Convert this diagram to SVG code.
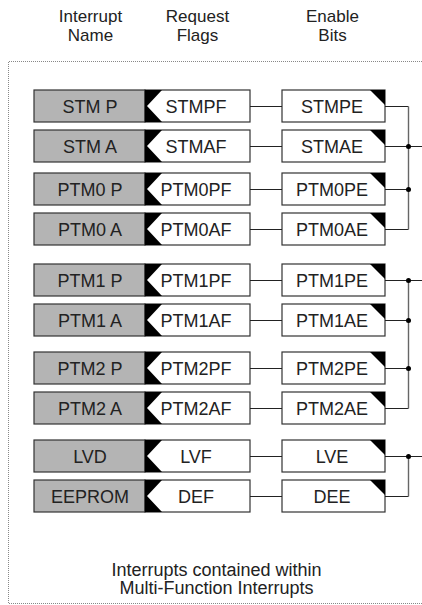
<svg xmlns="http://www.w3.org/2000/svg" width="422" height="605" viewBox="0 0 422 605">
<style>
text{font-family:"Liberation Sans",Arial,sans-serif;font-size:18px;fill:#222;text-anchor:middle}
.hd{font-size:17px}
.name{fill:#b4b4b4;stroke:#333;stroke-width:1.2}
.box{fill:#fff;stroke:#333;stroke-width:1.2}
.blk{fill:#000}
.h{stroke:#222;stroke-width:1.2;fill:none}
.v{stroke:#666;stroke-width:1.4;fill:none}
.dot{fill:#000}
.frame{stroke:#888;stroke-width:1;stroke-dasharray:1 1;fill:none}
</style>
<defs>
<g id="row">
<rect class="name" x="34" y="0" width="111" height="32"/>
<rect class="box" x="145" y="0" width="105" height="32"/>
<polygon class="blk" points="145,0 162,0 147,16 162,32 145,32"/>
<rect class="box" x="282" y="0" width="103" height="32"/>
<polygon class="blk" points="370,0 385,0 385,15"/>
</g>
</defs>
<path class="frame" d="M422,61.5 H8.5 V603.5 H422"/>
<g id="headers">
<text class="hd" x="90.5" y="22">Interrupt</text>
<text class="hd" x="90.5" y="40.5">Name</text>
<text class="hd" x="197.5" y="22">Request</text>
<text class="hd" x="197.5" y="40.5">Flags</text>
<text class="hd" x="332.5" y="22">Enable</text>
<text class="hd" x="332.5" y="40.5">Bits</text>
</g>
<g id="stm-p"><use href="#row" y="90"/><text x="90" y="113">STM P</text><text x="196" y="113">STMPF</text><text x="332" y="113">STMPE</text></g>
<g id="stm-a"><use href="#row" y="130"/><text x="90" y="153">STM A</text><text x="196" y="153">STMAF</text><text x="332" y="153">STMAE</text></g>
<g id="ptm0-p"><use href="#row" y="173"/><text x="90" y="196">PTM0 P</text><text x="196" y="196">PTM0PF</text><text x="332" y="196">PTM0PE</text></g>
<g id="ptm0-a"><use href="#row" y="213"/><text x="90" y="236">PTM0 A</text><text x="196" y="236">PTM0AF</text><text x="332" y="236">PTM0AE</text></g>
<g id="ptm1-p"><use href="#row" y="264"/><text x="90" y="287">PTM1 P</text><text x="196" y="287">PTM1PF</text><text x="332" y="287">PTM1PE</text></g>
<g id="ptm1-a"><use href="#row" y="304"/><text x="90" y="327">PTM1 A</text><text x="196" y="327">PTM1AF</text><text x="332" y="327">PTM1AE</text></g>
<g id="ptm2-p"><use href="#row" y="352"/><text x="90" y="375">PTM2 P</text><text x="196" y="375">PTM2PF</text><text x="332" y="375">PTM2PE</text></g>
<g id="ptm2-a"><use href="#row" y="392"/><text x="90" y="415">PTM2 A</text><text x="196" y="415">PTM2AF</text><text x="332" y="415">PTM2AE</text></g>
<g id="lvd"><use href="#row" y="440"/><text x="90" y="463">LVD</text><text x="196" y="463">LVF</text><text x="332" y="463">LVE</text></g>
<g id="eeprom"><use href="#row" y="480"/><text x="90" y="503">EEPROM</text><text x="196" y="503">DEF</text><text x="332" y="503">DEE</text></g>
<g id="connectors">
<path class="h" d="M250,106.5H282M250,146.5H282M250,189.5H282M250,229.5H282M250,280.5H282M250,320.5H282M250,368.5H282M250,408.5H282M250,456.5H282M250,496.5H282"/>
<path class="h" d="M385,106.5H408.5M385,146.5H422M385,189.5H408.5M385,229.5H408.5M385,280.5H422M385,320.5H408.5M385,368.5H408.5M385,408.5H408.5M385,456.5H422M385,496.5H408.5"/>
<path class="v" d="M408.5,106.5V229.5M408.5,280.5V408.5M408.5,456.5V496.5"/>
<circle class="dot" cx="408.5" cy="146.5" r="2.5"/>
<circle class="dot" cx="408.5" cy="189.5" r="2.5"/>
<circle class="dot" cx="408.5" cy="280.5" r="2.5"/>
<circle class="dot" cx="408.5" cy="320.5" r="2.5"/>
<circle class="dot" cx="408.5" cy="368.5" r="2.5"/>
<circle class="dot" cx="408.5" cy="456.5" r="2.5"/>
</g>
<g id="footer">
<text x="216.5" y="575.5">Interrupts contained within</text>
<text x="216.5" y="594">Multi-Function Interrupts</text>
</g>
</svg>
